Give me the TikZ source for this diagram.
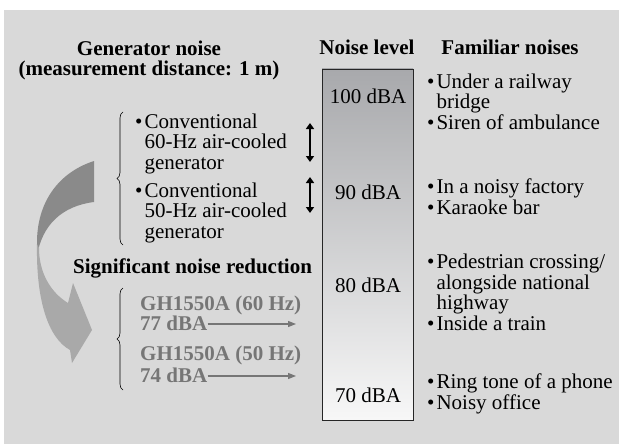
\documentclass[tikz,border=0pt]{standalone}
\usepackage{fontspec}
\setmainfont{Liberation Serif}
\usepackage{xcolor}
\usepackage{tikz}
\usetikzlibrary{arrows.meta, decorations.pathreplacing}
\definecolor{panelgray}{HTML}{D9D9D9}
\definecolor{ribbondark}{HTML}{8A8A8A}
\definecolor{ribbonlight}{HTML}{A9A9A9}
\definecolor{newgray}{HTML}{767676}
\definecolor{scaletop}{HTML}{A8A9AC}
\newcommand{\lbl}{\fontsize{21}{20.5}\selectfont}
\newcommand{\itm}{\textbullet\kern2pt}
\newcommand{\ind}{\phantom{\textbullet}\kern2pt}
\tikzset{
    heading/.style={inner sep=0pt, font=\lbl\bfseries, align=center, anchor=base},
    itemtext/.style={inner sep=0pt, font=\lbl, align=left, anchor=base west},
    newtext/.style={inner sep=0pt, font=\lbl\bfseries, text=newgray, anchor=base west},
    leveltext/.style={inner sep=0pt, font=\lbl, anchor=base},
    levelbox/.style={rectangle, minimum width=91pt, minimum height=351pt, inner sep=0pt,
        draw=black!85, line width=0.8pt, top color=scaletop, bottom color=white!97!black},
    rangearrow/.style={{Triangle[length=6pt,width=8pt]}-{Triangle[length=6pt,width=8pt]}, line width=2pt},
    gainarrow/.style={-{Triangle[length=8pt,width=6pt]}, line width=1.3pt, newgray},
    groupbrace/.style={decorate, decoration={brace, amplitude=6pt}, line width=0.6pt},
}

\begin{document}
\begin{tikzpicture}[x=1pt, y=-1pt]
    \useasboundingbox (0,0) rectangle (619,444);
    \fill[panelgray] (4,10) rectangle (619,444);

    % column headings (multi-line nodes sit on their last baseline)
    \node[heading] (gen) at (149,76) {Generator noise\\(measurement distance: 1 m)};
    \node[heading] (lvl) at (367,55) {Noise level};
    \node[heading] (fam) at (510,55) {Familiar noises};

    % level scale
    \node[levelbox] (scale) at (367.5,244.5) {};
    \node[leveltext] (l100) at (368,103) {100 dBA};
    \node[leveltext] (l90) at (368,199) {90 dBA};
    \node[leveltext] (l80) at (368,292) {80 dBA};
    \node[leveltext] (l70) at (368,402) {70 dBA};

    % familiar noises
    \node[itemtext] (f100) at (427,129) {\itm Under a railway\\\ind bridge\\\itm Siren of ambulance};
    \node[itemtext] (f90) at (427,214) {\itm In a noisy factory\\\itm Karaoke bar};
    \node[itemtext] (f80) at (427,330) {\itm Pedestrian crossing/\\\ind alongside national\\\ind highway\\\itm Inside a train};
    \node[itemtext] (f70) at (427,409) {\itm Ring tone of a phone\\\itm Noisy office};

    % conventional generators
    \node[itemtext] (c60) at (135,169) {\itm Conventional\\\ind 60-Hz air-cooled\\\ind generator};
    \node[itemtext] (c50) at (135,238) {\itm Conventional\\\ind 50-Hz air-cooled\\\ind generator};
    \draw[groupbrace] (123,245) -- (123,112);
    \coordinate (r60a) at (310,123);
    \coordinate (r60b) at (310,162);
    \coordinate (r50a) at (310,177);
    \coordinate (r50b) at (310,213);
    \draw[rangearrow] (r60a) -- (r60b);
    \draw[rangearrow] (r50a) -- (r50b);

    % ribbon arrow
    \fill[ribbondark] (94,161) .. controls (60,172) and (38,200) .. (37,240)
        -- (37,256) .. controls (42,225) and (62,206) .. (94,202) -- cycle;
    \fill[ribbonlight] (37,244) .. controls (36,300) and (48,338) .. (70,350)
        -- (72,363) -- (92,330) -- (73,283) -- (68,303)
        .. controls (50,292) and (39,272) .. (39,248) -- cycle;

    % new generators
    \node[newtext, text=black] (sig) at (73,273) {Significant noise reduction};
    \node[newtext] (g60) at (140,310) {GH1550A (60 Hz)};
    \node[newtext] (d77) at (140,330) {77 dBA};
    \node[newtext] (g50) at (140,360) {GH1550A (50 Hz)};
    \node[newtext] (d74) at (140,382) {74 dBA};
    \draw[groupbrace] (123,390) -- (123,288);
    \coordinate (e77) at (296,324);
    \coordinate (e74) at (296,376);
    \draw[gainarrow] (d77.east |- e77) -- (e77);
    \draw[gainarrow] (d74.east |- e74) -- (e74);
\end{tikzpicture}
\end{document}
